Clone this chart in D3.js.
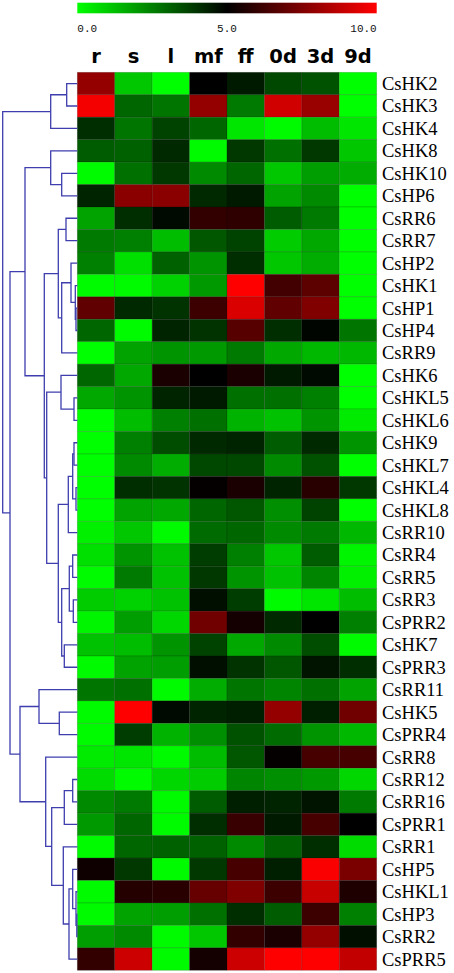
<!DOCTYPE html>
<meta charset="utf-8">
<script src="https://d3js.org/d3.v7.min.js"></script>
<style>
  body { margin: 0; background: #fff; }
</style>
<div id="chart"></div>
<script>

// sample columns and gene rows
var samples = ["r", "s", "l", "mf", "ff", "0d", "3d", "9d"];
var genes = ["CsHK2", "CsHK3", "CsHK4", "CsHK8", "CsHK10", "CsHP6", "CsRR6", "CsRR7", "CsHP2", "CsHK1",
  "CsHP1", "CsHP4", "CsRR9", "CsHK6", "CsHKL5", "CsHKL6", "CsHK9", "CsHKL7", "CsHKL4", "CsHKL8",
  "CsRR10", "CsRR4", "CsRR5", "CsRR3", "CsPRR2", "CsHK7", "CsPRR3", "CsRR11", "CsHK5", "CsPRR4",
  "CsRR8", "CsRR12", "CsRR16", "CsPRR1", "CsRR1", "CsHP5", "CsHKL1", "CsHP3", "CsRR2", "CsPRR5"];

// expression values (0 - 10), one line per gene, columns as in samples
var expr = [
  [7.9, 1.1, 0.0, 5.0, 4.5, 3.6, 3.4, 0.0],
  [9.8, 3.0, 2.7, 7.9, 2.6, 9.1, 8.0, 0.0],
  [4.1, 2.7, 3.7, 3.0, 0.5, 0.1, 1.3, 0.5],
  [3.2, 3.1, 4.2, 0.1, 3.9, 2.8, 3.9, 1.1],
  [0.1, 2.8, 3.9, 2.3, 3.0, 1.1, 1.9, 1.6],
  [4.3, 7.7, 7.7, 4.2, 4.5, 1.8, 2.3, 0.0],
  [1.8, 4.1, 4.8, 6.0, 5.9, 3.2, 2.6, 0.0],
  [2.6, 2.5, 1.3, 3.3, 3.7, 1.0, 1.7, 0.0],
  [2.5, 0.6, 3.1, 2.1, 4.1, 1.1, 1.6, 0.0],
  [0.1, 0.1, 0.9, 2.0, 10.0, 6.3, 6.8, 0.0],
  [6.9, 4.2, 4.0, 6.2, 9.3, 6.9, 7.5, 0.0],
  [3.0, 0.1, 4.3, 4.0, 6.7, 4.1, 4.9, 2.7],
  [0.0, 1.8, 2.1, 2.0, 2.6, 1.7, 1.4, 1.4],
  [3.0, 1.7, 5.5, 5.0, 5.5, 4.5, 4.8, 0.0],
  [1.7, 2.1, 4.3, 4.5, 2.8, 2.8, 2.5, 0.0],
  [0.0, 1.3, 2.5, 2.8, 1.5, 1.2, 2.1, 0.4],
  [0.0, 2.5, 3.5, 4.2, 4.3, 3.2, 4.2, 2.1],
  [0.0, 2.3, 1.6, 3.6, 3.6, 2.3, 3.4, 0.0],
  [0.0, 4.1, 4.0, 5.1, 5.5, 4.3, 5.8, 3.9],
  [0.0, 1.8, 1.7, 3.0, 3.3, 2.2, 3.7, 0.0],
  [0.3, 1.1, 0.1, 2.9, 3.0, 2.3, 2.6, 1.4],
  [0.6, 2.1, 1.2, 3.8, 2.5, 1.1, 3.2, 0.2],
  [0.1, 2.6, 1.2, 3.9, 2.1, 1.2, 2.4, 0.3],
  [1.0, 0.9, 1.2, 4.7, 3.8, 0.1, 0.5, 1.3],
  [0.2, 1.9, 0.8, 7.2, 5.4, 4.2, 5.0, 2.5],
  [1.2, 1.3, 2.1, 3.7, 1.7, 2.3, 3.5, 0.1],
  [0.1, 1.8, 1.9, 4.7, 4.0, 3.3, 4.6, 4.1],
  [2.7, 2.8, 0.1, 1.6, 2.7, 2.4, 2.8, 1.8],
  [0.1, 10.0, 4.8, 4.3, 4.4, 7.9, 4.4, 7.2],
  [0.1, 3.8, 1.5, 2.2, 3.4, 2.9, 2.1, 1.4],
  [0.4, 0.5, 0.1, 1.3, 3.3, 5.1, 6.4, 6.4],
  [0.7, 0.1, 0.8, 1.0, 2.4, 2.2, 2.0, 0.8],
  [2.3, 2.6, 0.1, 3.2, 4.4, 4.3, 4.6, 2.6],
  [2.0, 3.0, 0.1, 4.1, 6.1, 4.5, 6.4, 5.0],
  [0.1, 3.0, 3.1, 3.1, 2.3, 3.1, 4.1, 0.7],
  [5.3, 3.9, 0.1, 3.9, 6.4, 4.4, 9.9, 7.4],
  [0.1, 5.7, 5.8, 7.0, 7.5, 6.2, 8.9, 5.6],
  [0.1, 1.8, 1.9, 2.8, 4.1, 3.2, 6.2, 2.5],
  [1.9, 2.3, 0.1, 1.1, 6.0, 5.5, 7.9, 4.7],
  [6.0, 9.0, 0.1, 5.4, 9.0, 10.0, 10.0, 8.8]
];

// colour key
var legendTicks = [0, 5, 10];

// row clustering: [merge height, child, child]
var tree = [74.6,
  [26.6, [10.6, "CsHK2", "CsHK3"], "CsHK4"],
  [67.3,
    [52.3,
      [26.6, "CsHK8", [15.6, "CsHK10", "CsHP6"]],
      [33,
        [19, [11.3, "CsRR6", "CsRR7"],
          [15.6, [6.3, "CsHP2", [2, "CsHK1", [1.3, "CsHP1", "CsHP4"]]], "CsRR9"]],
        [30.6,
          [16.3, "CsHK6", [3.3, "CsHKL5", "CsHKL6"]],
          [19,
            [9, [4.6, [3.3, "CsHK9", "CsHKL7"], [1.3, "CsHKL4", "CsHKL8"]], "CsRR10"],
            [15.6, [8, [4.6, "CsRR4", "CsRR5"], [4, "CsRR3", "CsPRR2"]], [13, "CsHK7", "CsPRR3"]]]]]],
    [57.3,
      [38.3, "CsRR11", [18, "CsHK5", "CsPRR4"]],
      [31.6, "CsRR8",
        [25.6,
          [13, [4.6, "CsRR12", "CsRR16"], "CsPRR1"],
          [14, "CsRR1", [8.3, [4.6, "CsHP5", [1.3, "CsHKL1", [0.5, "CsHP3", "CsRR2"]]], "CsPRR5"]]]]]]
];

var W = 454, H = 973;
var mapL = 77.3, mapR = 376.7, mapT = 72.3, mapB = 970.3;

var svg = d3.select("#chart").append("svg")
  .attr("width", W)
  .attr("height", H);

var x = d3.scaleBand().domain(samples).range([mapL, mapR]);
var y = d3.scaleBand().domain(genes).range([mapT, mapB]);
var color = d3.scaleLinear().domain([0, 5, 10]).range(["#00ff00", "#000000", "#ff0000"]);

// colour bar
var grad = svg.append("defs").append("linearGradient")
  .attr("id", "key");
grad.selectAll("stop")
  .data(legendTicks)
  .enter().append("stop")
  .attr("offset", function(d) { return d / 10; })
  .attr("stop-color", function(d) { return color(d); });

var k = d3.scaleLinear().domain([0, 10]).range([mapL, mapR]);
svg.append("rect")
  .attr("x", k(0))
  .attr("y", 2.7)
  .attr("width", k(10) - k(0))
  .attr("height", 10.6)
  .attr("fill", "url(#key)");

svg.selectAll(".ktick")
  .data(legendTicks)
  .enter().append("text")
  .attr("class", "ktick")
  .attr("x", function(d) { return k(d); })
  .attr("y", 32)
  .attr("text-anchor", function(d, i) { return i == 0 ? "start" : (i == legendTicks.length - 1 ? "end" : "middle"); })
  .style("font-family", "'Liberation Mono', 'DejaVu Sans Mono', monospace")
  .style("font-size", "11px")
  .style("fill", "#111")
  .text(function(d) { return d.toFixed(1); });

// column labels
svg.selectAll(".col")
  .data(samples)
  .enter().append("text")
  .attr("class", "col")
  .attr("x", function(d) { return x(d) + x.bandwidth() / 2; })
  .attr("y", 63)
  .attr("text-anchor", "middle")
  .style("font-family", "'DejaVu Sans', sans-serif")
  .style("font-weight", "bold")
  .style("font-size", "19.5px")
  .text(function(d) { return d; });

// heatmap cells
var cells = [];
expr.forEach(function(row, i) {
  row.forEach(function(v, j) {
    cells.push({gene: genes[i], sample: samples[j], value: v});
  });
});

svg.append("g")
  .selectAll("rect")
  .data(cells)
  .enter().append("rect")
  .attr("x", function(d) { return x(d.sample); })
  .attr("y", function(d) { return y(d.gene); })
  .attr("width", x.bandwidth())
  .attr("height", y.bandwidth())
  .attr("fill", function(d) { return color(d.value); })
  .attr("stroke", "rgba(0,0,0,0.18)")
  .attr("stroke-width", 0.8);

// row labels
svg.selectAll(".row")
  .data(genes)
  .enter().append("text")
  .attr("class", "row")
  .attr("x", 382)
  .attr("y", function(d) { return y(d) + y.bandwidth() / 2; })
  .attr("dy", "0.35em")
  .style("font-family", "'Liberation Serif', 'Times New Roman', serif")
  .style("font-size", "18.5px")
  .text(function(d) { return d; });

// dendrogram
var hx = d3.scaleLinear().domain([0, 74.6]).range([mapL, 2.7]);
var root = d3.hierarchy(tree, function(d) { return Array.isArray(d) ? d.slice(1) : null; });

root.eachAfter(function(n) {
  if (n.children) {
    n.px = hx(n.data[0]);
    n.py = (n.children[0].py + n.children[n.children.length - 1].py) / 2;
  } else {
    n.px = mapL;
    n.py = y(n.data) + y.bandwidth() / 2;
  }
});

var dg = svg.append("g")
  .attr("fill", "none")
  .attr("stroke", "#3e3eae")
  .attr("stroke-width", 1.3);

root.descendants().filter(function(n) { return n.children; }).forEach(function(n) {
  var a = n.children[0], b = n.children[n.children.length - 1];
  dg.append("path")
    .attr("d", "M" + a.px + "," + a.py + "H" + n.px + "V" + b.py + "H" + b.px);
});

</script>
